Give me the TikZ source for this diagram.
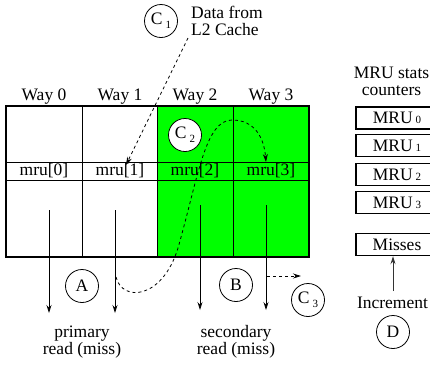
\documentclass[tikz,border=0pt]{standalone}
\usepackage{fontspec}
\setmainfont{Liberation Serif}
\usetikzlibrary{arrows.meta}
\definecolor{cellgreen}{RGB}{0,255,0}
\begin{document}
\begin{tikzpicture}[x=1pt,y=-1pt,
  font=\fontsize{17.5}{17}\selectfont,
  lbl/.style={inner sep=0pt},
  circ/.style={circle,draw,line width=0.8pt,minimum size=33pt,inner sep=0pt},
  arr/.style={-{Stealth[length=8pt,width=5pt]},line width=0.8pt},
  darr/.style={arr,dash pattern=on 3pt off 3pt},
  cntbox/.style={draw,line width=1.4pt,minimum width=82pt,minimum height=22pt,inner sep=0pt}]
\useasboundingbox (0,0) rectangle (430,365);
\clip (0,0) rectangle (430,365);

% cache grid
\fill[cellgreen] (157,106) rectangle (309,257);
\draw[line width=0.8pt] (82,106) -- (82,257) (157,106) -- (157,257) (233,106) -- (233,257);
\draw[line width=0.6pt] (6,162) -- (309,162) (6,180) -- (309,180);
\draw[line width=1.6pt] (6,106) rectangle (309,257);

% way labels
\node[lbl] (w0) at (44,97) {Way 0};
\node[lbl] (w1) at (120,97) {Way 1};
\node[lbl] (w2) at (195,97) {Way 2};
\node[lbl] (w3) at (271,97) {Way 3};

% mru labels
\node[lbl] (m0) at (44,171) {mru[0]};
\node[lbl] (m1) at (120,171) {mru[1]};
\node[lbl] (m2) at (195,171) {mru[2]};
\node[lbl] (m3) at (271,171) {mru[3]};

% C1 and L2 data
\node[circ] (c1) at (161,21) {C\,\raisebox{-4pt}{\fontsize{11}{11}\selectfont 1}};
\node[lbl,align=left,anchor=west] (l2) at (191,21) {Data from\\L2 Cache};
\coordinate (c1tail) at (188,38);
\coordinate (m1tip) at (126,165);
\draw[darr] (c1tail) -- (m1tip);

% C2
\node[circ,fill=white] (c2) at (185,135) {C\,\raisebox{-4pt}{\fontsize{11}{11}\selectfont 2}};

% primary read arrows
\coordinate (p0s) at (49,210);
\coordinate (p0e) at (49,313);
\coordinate (p1s) at (115,210);
\coordinate (p1e) at (115,313);
\draw[arr] (p0s) -- (p0e);
\draw[arr] (p1s) -- (p1e);

% secondary read arrows
\coordinate (s0s) at (200,205);
\coordinate (s0e) at (200,310);
\coordinate (s1s) at (266,205);
\coordinate (s1e) at (266,310);
\draw[arr] (s0s) -- (s0e);
\draw[arr] (s1s) -- (s1e);

% circles A, B, C3
\node[circ] (a) at (82,286) {A};
\node[circ] (b) at (236,285) {B};
\node[circ] (c3) at (308,300) {C\,\raisebox{-4pt}{\fontsize{11}{11}\selectfont 3}};

% dashed curve from primary miss to mru[3]
\coordinate (cs) at (116,277);
\coordinate (ce) at (266,162);
\draw[darr] (cs) .. controls (122,302) and (162,300) .. (178,248)
  .. controls (198,178) and (205,120) .. (232,120)
  .. controls (255,120) and (264,138) .. (ce);

% C3 arrow
\coordinate (c3s) at (267,276);
\coordinate (c3e) at (301,276);
\draw[darr] (c3s) -- (c3e);

% bottom labels
\node[lbl,align=center] (prim) at (82,342) {primary\\read (miss)};
\node[lbl,align=center] (sec) at (236,342) {secondary\\read (miss)};

% MRU stats counters
\node[lbl,align=center] (stats) at (391.5,81) {MRU stats\\counters};
\node[cntbox] (r0) at (397,118) {MRU\,{\fontsize{11}{11}\selectfont 0}};
\node[cntbox] (r1) at (397,145.5) {MRU\,{\fontsize{11}{11}\selectfont 1}};
\node[cntbox] (r2) at (397,174.5) {MRU\,{\fontsize{11}{11}\selectfont 2}};
\node[cntbox] (r3) at (397,202.5) {MRU\,{\fontsize{11}{11}\selectfont 3}};
\node[cntbox] (miss) at (397,244.5) {Misses};

\node[lbl] (inc) at (392.5,303) {Increment};
\node[circ] (d) at (393,332) {D};
\coordinate (incs) at (393,291);
\draw[arr,black!80,line width=1pt] (incs) -- (miss.south -| incs);
\end{tikzpicture}
\end{document}
